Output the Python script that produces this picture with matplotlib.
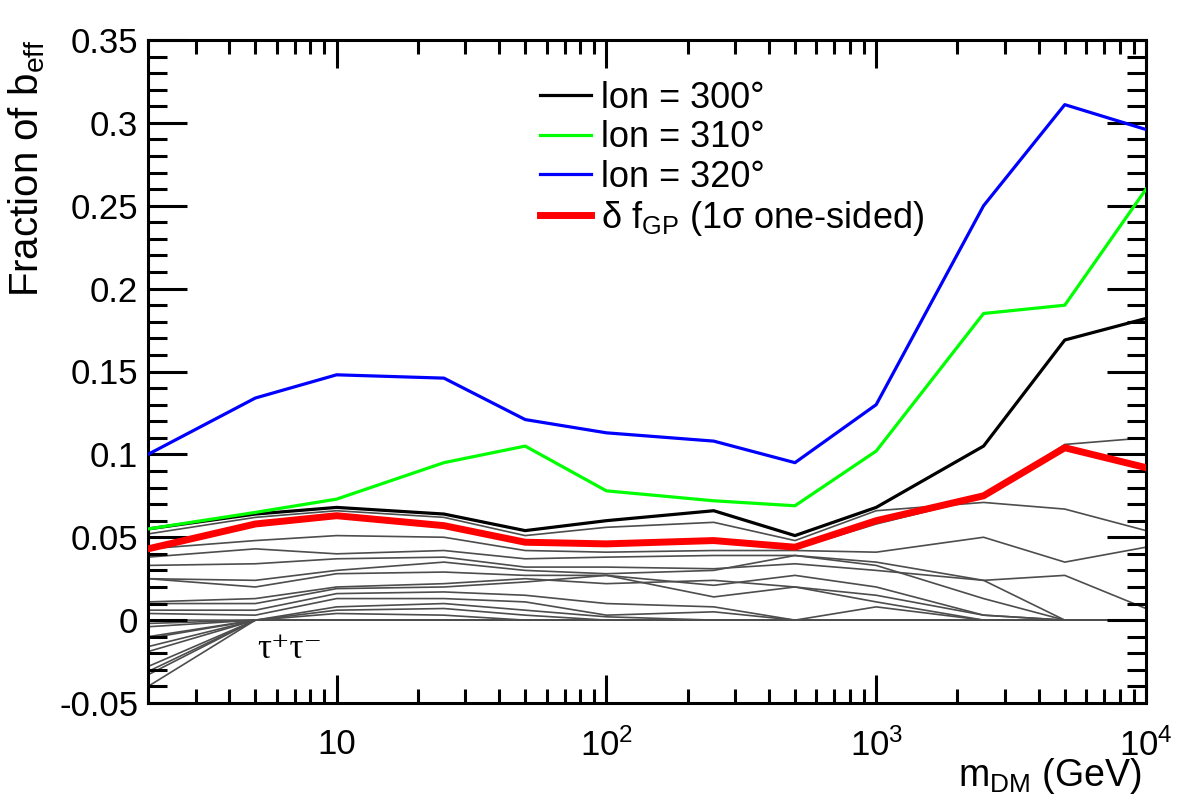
import matplotlib
matplotlib.use('Agg')
import matplotlib.pyplot as plt
from matplotlib.ticker import FixedLocator, LogLocator, NullFormatter

plt.rcParams['font.family'] = ['Liberation Sans', 'DejaVu Sans']
plt.rcParams['mathtext.fontset'] = 'custom'
plt.rcParams['mathtext.rm'] = 'Liberation Sans'
plt.rcParams['mathtext.it'] = 'Liberation Sans:italic'
plt.rcParams['mathtext.bf'] = 'Liberation Sans:bold'

# DM masses (GeV)
mass = [2, 5, 10, 25, 50, 100, 250, 500, 1000, 2500, 5000, 10000]

lon300 = [0.055, 0.064, 0.068, 0.064, 0.054, 0.060, 0.066, 0.051, 0.068, 0.105, 0.169, 0.182]
lon310 = [0.055, 0.065, 0.073, 0.095, 0.105, 0.078, 0.072, 0.069, 0.102, 0.185, 0.190, 0.260]
lon320 = [0.100, 0.134, 0.148, 0.146, 0.121, 0.113, 0.108, 0.095, 0.130, 0.250, 0.311, 0.296]
dfgp = [0.043, 0.058, 0.063, 0.057, 0.047, 0.046, 0.048, 0.044, 0.060, 0.075, 0.104, 0.092]

# other longitudes (grey)
grey = [
    [0.052, 0.062, 0.066, 0.062, 0.051, 0.056, 0.059, 0.048, 0.066, 0.071, 0.067, 0.054],
    [0.043, 0.057, 0.062, 0.056, 0.046, 0.045, 0.047, 0.043, 0.058, 0.074, 0.106, 0.110],
    [0.043, 0.048, 0.051, 0.050, 0.042, 0.041, 0.042, 0.042, 0.041, 0.050, 0.035, 0.044],
    [0.038, 0.043, 0.040, 0.042, 0.037, 0.038, 0.039, 0.039, 0.035, 0.024, 0.027, 0.007],
    [0.033, 0.034, 0.037, 0.038, 0.032, 0.032, 0.031, 0.034, 0.030, 0.024, 0.000, 0.000],
    [0.025, 0.024, 0.030, 0.035, 0.030, 0.028, 0.030, 0.039, 0.033, 0.013, 0.000, 0.000],
    [0.025, 0.020, 0.028, 0.029, 0.027, 0.027, 0.021, 0.027, 0.020, 0.003, 0.000, 0.000],
    [0.011, 0.013, 0.020, 0.022, 0.025, 0.022, 0.024, 0.020, 0.015, 0.003, 0.000, 0.000],
    [0.010, 0.010, 0.019, 0.020, 0.023, 0.027, 0.014, 0.020, 0.011, 0.000, 0.000, 0.000],
    [0.006, 0.006, 0.016, 0.017, 0.015, 0.010, 0.008, 0.000, 0.008, 0.000, 0.000, 0.000],
    [0.004, 0.003, 0.013, 0.013, 0.011, 0.003, 0.005, 0.000, 0.000, 0.000, 0.000, 0.000],
    [0.000, 0.000, 0.008, 0.010, 0.006, 0.002, 0.000, 0.000, 0.000, 0.000, 0.000, 0.000],
    [-0.002, 0.000, 0.006, 0.007, 0.003, 0.000, 0.000, 0.000, 0.000, 0.000, 0.000, 0.000],
    [-0.004, 0.000, 0.004, 0.003, 0.000, 0.000, 0.000, 0.000, 0.000, 0.000, 0.000, 0.000],
    [-0.010, 0.000, 0.000, 0.000, 0.000, 0.000, 0.000, 0.000, 0.000, 0.000, 0.000, 0.000],
    [-0.011, 0.000, 0.000, 0.000, 0.000, 0.000, 0.000, 0.000, 0.000, 0.000, 0.000, 0.000],
    [-0.016, 0.000, 0.000, 0.000, 0.000, 0.000, 0.000, 0.000, 0.000, 0.000, 0.000, 0.000],
    [-0.019, 0.000, 0.000, 0.000, 0.000, 0.000, 0.000, 0.000, 0.000, 0.000, 0.000, 0.000],
    [-0.028, 0.000, 0.000, 0.000, 0.000, 0.000, 0.000, 0.000, 0.000, 0.000, 0.000, 0.000],
    [-0.031, 0.000, 0.000, 0.000, 0.000, 0.000, 0.000, 0.000, 0.000, 0.000, 0.000, 0.000],
    [-0.033, 0.000, 0.000, 0.000, 0.000, 0.000, 0.000, 0.000, 0.000, 0.000, 0.000, 0.000],
    [-0.040, 0.000, 0.000, 0.000, 0.000, 0.000, 0.000, 0.000, 0.000, 0.000, 0.000, 0.000],
]

yticks = [-0.05, 0, 0.05, 0.1, 0.15, 0.2, 0.25, 0.3, 0.35]
ytick_labels = ['-0.05', '0', '0.05', '0.1', '0.15', '0.2', '0.25', '0.3', '0.35']
xticks = [10, 100, 1000, 10000]
xtick_labels = ['10', '10$^{2}$', '10$^{3}$', '10$^{4}$']

fig = plt.figure(figsize=(11.82, 8.09), dpi=100)
ax = fig.add_axes([148/1182, 1 - 703/809, (1146 - 148)/1182, (703 - 40)/809])

for g in grey:
    ax.plot(mass, g, color='#4d4d4d', lw=1.2, zorder=1)

ax.plot(mass, lon300, color='black', lw=2.3, zorder=3, label='lon = 300°')
ax.plot(mass, lon310, color='#00ff00', lw=2.3, zorder=3, label='lon = 310°')
ax.plot(mass, lon320, color='#0000ff', lw=2.3, zorder=3, label='lon = 320°')
ax.plot(mass, dfgp, color='#ff0000', lw=5, zorder=4,
        label=r'δ f$_{\mathrm{GP}}$ (1σ one-sided)')

ax.set_xscale('log')
ax.set_xlim(2, 10000)
ax.set_ylim(-0.05, 0.35)

ax.set_xticks(xticks, labels=xtick_labels)
ax.xaxis.set_minor_locator(LogLocator(base=10, subs=range(2, 10), numticks=20))
ax.xaxis.set_minor_formatter(NullFormatter())
ax.set_yticks(yticks, labels=ytick_labels)
ax.yaxis.set_minor_locator(FixedLocator([i / 100 for i in range(-5, 36)]))

for s in ax.spines.values():
    s.set_linewidth(2.2)
ax.tick_params(which='both', direction='in', top=True, right=True, width=2.2, labelsize=25)
ax.tick_params(axis='y', which='major', length=28, pad=7)
ax.tick_params(axis='y', which='minor', length=14)
ax.tick_params(axis='x', which='major', length=20, pad=18)
ax.tick_params(axis='x', which='minor', length=10)

fig.text(27/1182, 1 - 40/809, r'Fraction of b$_{\mathrm{eff}}$', rotation=90,
         ha='center', va='top', fontsize=29)
fig.text(1142/1182, 1 - 786/809, r'm$_{\mathrm{DM}}$ (GeV)', ha='right', va='baseline', fontsize=27)

ax.text(5.1, -0.0175, 'τ⁺τ⁻', family=['Liberation Serif', 'DejaVu Serif'], fontsize=25,
        ha='left', va='center')

ax.legend(loc='upper left', bbox_to_anchor=(540/1182, 1 - 81/809), bbox_transform=fig.transFigure,
          frameon=False, fontsize=26, handlelength=1.4, handletextpad=0.3,
          labelspacing=0.12, borderpad=0, borderaxespad=0)

fig.savefig('out.png', dpi=100)
